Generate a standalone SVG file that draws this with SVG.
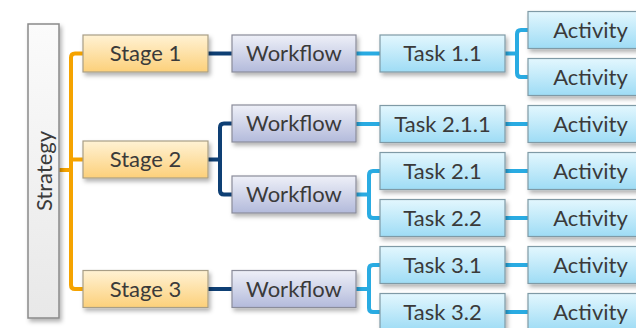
<svg xmlns="http://www.w3.org/2000/svg" width="636" height="328" viewBox="0 0 636 328">
<defs>
<linearGradient id="gStage" x1="0" y1="0" x2="0" y2="1"><stop offset="0" stop-color="#fff2d4"/><stop offset="1" stop-color="#fcd07a"/></linearGradient>
<linearGradient id="gWork" x1="0" y1="0" x2="0" y2="1"><stop offset="0" stop-color="#eef0f8"/><stop offset="1" stop-color="#b3badb"/></linearGradient>
<linearGradient id="gTask" x1="0" y1="0" x2="0" y2="1"><stop offset="0" stop-color="#e3f7fe"/><stop offset="1" stop-color="#9edcf5"/></linearGradient>
<linearGradient id="gStrat" x1="0" y1="0" x2="0" y2="1"><stop offset="0" stop-color="#fbfbfb"/><stop offset="1" stop-color="#e8e8e8"/></linearGradient>
<filter id="sh" x="-10%" y="-20%" width="130%" height="160%"><feDropShadow dx="2" dy="3" stdDeviation="2" flood-color="#000" flood-opacity="0.3"/></filter>
</defs>
<style>
.box{stroke:#8a8a8a;stroke-width:1.2;filter:url(#sh)}
.stage{fill:url(#gStage);stroke:#a89e86}
.work{fill:url(#gWork);stroke:#8a8c9a}
.task{fill:url(#gTask);stroke:#7f9aa6}
.strat{fill:url(#gStrat);stroke:#8a8a8a;stroke-width:1.5}
text{font-family:Lato,"Liberation Sans",sans-serif;font-size:22px;fill:#3a3a3a;text-anchor:middle}
.c{fill:none;stroke-width:4;stroke-linejoin:round;stroke-linecap:butt}
.o{stroke:#f5a300}
.d{stroke:#0e3f74}
.l{stroke:#29abe2}
</style>
<g id="connectors">
<path class="c o" d="M83 53.5 H75 Q71 53.5 71 57.5 V285 Q71 289 75 289 H83"/>
<path class="c o" d="M71 159.5 H83"/>
<path class="c o" d="M59 170 H71"/>
<path class="c d" d="M208 53.5 H232"/>
<path class="c d" d="M232 123.5 H224 Q220 123.5 220 127.5 V190.5 Q220 194.5 224 194.5 H232"/>
<path class="c d" d="M208 159.5 H220"/>
<path class="c d" d="M208 289 H232"/>
<path class="c l" d="M356 53.5 H380"/>
<path class="c l" d="M356 124 H380"/>
<path class="c l" d="M356 194.5 H369"/>
<path class="c l" d="M380 171 H373 Q369 171 369 175 V214 Q369 218 373 218 H380"/>
<path class="c l" d="M356 289 H369"/>
<path class="c l" d="M380 265 H373 Q369 265 369 269 V308 Q369 312 373 312 H380"/>
<path class="c l" d="M505 53.5 H517"/>
<path class="c l" d="M528 30 H521 Q517 30 517 34 V73 Q517 77 521 77 H528"/>
<path class="c l" d="M505 124 H528"/>
<path class="c l" d="M505 171 H528"/>
<path class="c l" d="M505 218 H528"/>
<path class="c l" d="M505 265 H528"/>
<path class="c l" d="M505 312 H528"/>
</g>
<g id="strategy"><rect class="box strat" x="28" y="24" width="31" height="294"/><text transform="translate(51.5 171) rotate(-90)">Strategy</text></g>
<g id="stage1"><rect class="box stage" x="83" y="35" width="125" height="37"/><text x="145.5" y="61">Stage 1</text></g>
<g id="stage2"><rect class="box stage" x="83" y="141" width="125" height="37"/><text x="145.5" y="167">Stage 2</text></g>
<g id="stage3"><rect class="box stage" x="83" y="270.5" width="125" height="37"/><text x="145.5" y="296.5">Stage 3</text></g>
<g id="workflow1"><rect class="box work" x="232" y="35" width="124" height="37"/><text x="294" y="61">Workflow</text></g>
<g id="workflow2"><rect class="box work" x="232" y="105" width="124" height="37"/><text x="294" y="131">Workflow</text></g>
<g id="workflow3"><rect class="box work" x="232" y="176" width="124" height="37"/><text x="294" y="202">Workflow</text></g>
<g id="workflow4"><rect class="box work" x="232" y="270.5" width="124" height="37"/><text x="294" y="296.5">Workflow</text></g>
<g id="task11"><rect class="box task" x="380" y="35" width="125" height="37"/><text x="442.5" y="61">Task 1.1</text></g>
<g id="task211"><rect class="box task" x="380" y="105.5" width="125" height="37"/><text x="442.5" y="131.5">Task 2.1.1</text></g>
<g id="task21"><rect class="box task" x="380" y="152.5" width="125" height="37"/><text x="442.5" y="178.5">Task 2.1</text></g>
<g id="task22"><rect class="box task" x="380" y="199.5" width="125" height="37"/><text x="442.5" y="225.5">Task 2.2</text></g>
<g id="task31"><rect class="box task" x="380" y="246.5" width="125" height="37"/><text x="442.5" y="272.5">Task 3.1</text></g>
<g id="task32"><rect class="box task" x="380" y="293.5" width="125" height="37"/><text x="442.5" y="319.5">Task 3.2</text></g>
<g id="activity1"><rect class="box task" x="528" y="11.5" width="125" height="37"/><text x="590.5" y="37.5">Activity</text></g>
<g id="activity2"><rect class="box task" x="528" y="58.5" width="125" height="37"/><text x="590.5" y="84.5">Activity</text></g>
<g id="activity3"><rect class="box task" x="528" y="105.5" width="125" height="37"/><text x="590.5" y="131.5">Activity</text></g>
<g id="activity4"><rect class="box task" x="528" y="152.5" width="125" height="37"/><text x="590.5" y="178.5">Activity</text></g>
<g id="activity5"><rect class="box task" x="528" y="199.5" width="125" height="37"/><text x="590.5" y="225.5">Activity</text></g>
<g id="activity6"><rect class="box task" x="528" y="246.5" width="125" height="37"/><text x="590.5" y="272.5">Activity</text></g>
<g id="activity7"><rect class="box task" x="528" y="293.5" width="125" height="37"/><text x="590.5" y="319.5">Activity</text></g>
</svg>
